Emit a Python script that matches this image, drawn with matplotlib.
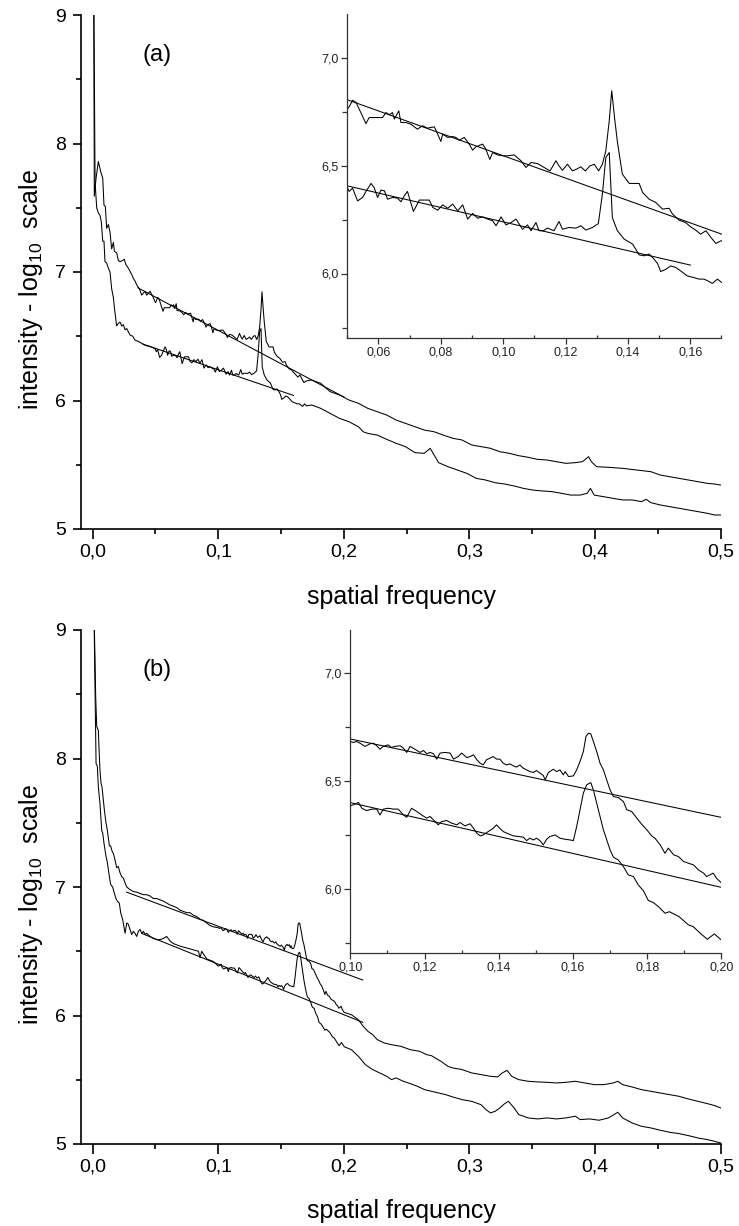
import matplotlib
matplotlib.use('Agg')
import matplotlib.pyplot as plt
from matplotlib.ticker import MultipleLocator, FuncFormatter

plt.rcParams['font.family'] = ['Liberation Sans', 'DejaVu Sans']
plt.rcParams['mathtext.fontset'] = 'custom'
plt.rcParams['mathtext.rm'] = 'Liberation Sans'
plt.rcParams['mathtext.it'] = 'Liberation Sans:italic'
plt.rcParams['mathtext.default'] = 'regular'

# ---------------- data: panel (a) ----------------
upper_a_x = [
    0.0008, 0.0013, 0.0027, 0.0045, 0.0064, 0.0080, 0.0090, 0.0101, 0.0111, 0.0125,
    0.0138, 0.0151, 0.0165, 0.0173, 0.0191, 0.0204, 0.0218, 0.0239, 0.0252, 0.0263,
    0.0284, 0.0311, 0.0324, 0.0337, 0.0350, 0.0372, 0.0390, 0.0417, 0.0430, 0.0457,
    0.0483,
    0.0500, 0.0506, 0.0517, 0.0528, 0.0560, 0.0570, 0.0613, 0.0624, 0.0635, 0.0645,
    0.0651, 0.0665, 0.0672, 0.0688, 0.0704, 0.0725, 0.0741, 0.0757, 0.0779, 0.0790,
    0.0800, 0.0806, 0.0822, 0.0838, 0.0848, 0.0859, 0.0875, 0.0891, 0.0902, 0.0912,
    0.0934, 0.0944, 0.0957, 0.0966, 0.0982, 0.0998, 0.1014, 0.1035, 0.1057, 0.1073,
    0.1089, 0.1110, 0.1131, 0.1150, 0.1169, 0.1179, 0.1190, 0.1206, 0.1222, 0.1235,
    0.1249, 0.1263, 0.1278, 0.1292, 0.1306, 0.1318, 0.1329, 0.1340, 0.1348, 0.1357,
    0.1366, 0.1382, 0.1404, 0.1420, 0.1436, 0.1447, 0.1468, 0.1489, 0.1511, 0.1532,
    0.1543, 0.1564, 0.1585, 0.1601, 0.1617, 0.1633, 0.1650, 0.1666, 0.1682, 0.1698,
    0.174, 0.1815, 0.189, 0.1965, 0.204, 0.2116, 0.219, 0.2266, 0.234, 0.2416,
    0.249, 0.2566, 0.264, 0.2717, 0.279, 0.2867, 0.294, 0.3017, 0.309, 0.3167,
    0.324, 0.3317, 0.339, 0.3467, 0.354, 0.3617, 0.369, 0.3768, 0.384, 0.390,
    0.3948, 0.397, 0.4012, 0.4106, 0.4219, 0.4331, 0.4444, 0.4519, 0.4594, 0.4669,
    0.4744, 0.4819, 0.4895, 0.4951, 0.5]
upper_a_y = [
    9.3, 7.59, 7.73, 7.86, 7.78, 7.73, 7.52, 7.51, 7.34, 7.37,
    7.31, 7.18, 7.23, 7.16, 7.15, 7.09, 7.08, 7.09, 7.10, 7.06,
    7.03, 6.98, 6.95, 6.93, 6.90, 6.87, 6.82, 6.85, 6.82, 6.85,
    6.80,
    6.761, 6.772, 6.802, 6.792, 6.694, 6.722, 6.722, 6.745, 6.735, 6.745,
    6.715, 6.753, 6.699, 6.699, 6.691, 6.668, 6.684, 6.673, 6.679, 6.645,
    6.611, 6.645, 6.630, 6.634, 6.630, 6.617, 6.630, 6.599, 6.571, 6.586,
    6.599, 6.576, 6.528, 6.560, 6.549, 6.545, 6.545, 6.549, 6.522, 6.491,
    6.514, 6.509, 6.491, 6.475, 6.522, 6.498, 6.478, 6.506, 6.475, 6.483,
    6.494, 6.475, 6.498, 6.506, 6.475, 6.506, 6.568, 6.707, 6.846, 6.722,
    6.611, 6.460, 6.417, 6.417, 6.417, 6.375, 6.344, 6.329, 6.298, 6.302,
    6.275, 6.247, 6.236, 6.216, 6.201, 6.182, 6.198, 6.167, 6.139, 6.151,
    6.160, 6.134, 6.069, 6.043, 6.004, 5.978, 5.939, 5.913, 5.887, 5.848,
    5.822, 5.796, 5.770, 5.757, 5.731, 5.706, 5.693, 5.654, 5.641, 5.628,
    5.602, 5.589, 5.571, 5.558, 5.542, 5.537, 5.524, 5.511, 5.516, 5.524,
    5.563, 5.524, 5.485, 5.480, 5.472, 5.459, 5.446, 5.420, 5.407, 5.394,
    5.381, 5.368, 5.355, 5.350, 5.342]

lower_a_x = [
    0.0008, 0.0019, 0.0032, 0.0045, 0.0058, 0.0069, 0.0080, 0.0090, 0.0098, 0.0111,
    0.0125, 0.0138, 0.0151, 0.0165, 0.0173, 0.0183, 0.0191, 0.0204, 0.0218, 0.0231,
    0.0244, 0.0258, 0.0271, 0.0297, 0.0319, 0.0337, 0.0364, 0.0390, 0.0417, 0.0457,
    0.0483,
    0.0500, 0.0506, 0.0517, 0.0533, 0.0549, 0.0560, 0.0576, 0.0586, 0.0597, 0.0608,
    0.0619, 0.0629, 0.0645, 0.0661, 0.0672, 0.0683, 0.0693, 0.0712, 0.0731, 0.0763,
    0.0774, 0.0790, 0.0806, 0.0822, 0.0838, 0.0854, 0.0870, 0.0886, 0.0902, 0.0918,
    0.0934, 0.0950, 0.0966, 0.0977, 0.0993, 0.1009, 0.1025, 0.1041, 0.1062, 0.1078,
    0.1089, 0.1105, 0.1115, 0.1128, 0.1142, 0.1163, 0.1179, 0.1190, 0.1211, 0.1233,
    0.1249, 0.1265, 0.1286, 0.1305, 0.1318, 0.1329, 0.1340, 0.1350, 0.1366, 0.1388,
    0.1415, 0.1436, 0.1452, 0.1468, 0.1484, 0.1495, 0.1505, 0.1521, 0.1537, 0.1553,
    0.1569, 0.1590, 0.1612, 0.1628, 0.1644, 0.1660, 0.1671, 0.1687, 0.1701,
    0.1744, 0.1815, 0.189, 0.1965, 0.204, 0.2116, 0.2153, 0.219, 0.2266, 0.234,
    0.2416, 0.249, 0.2566, 0.264, 0.2687, 0.2754, 0.2829, 0.2904, 0.2979, 0.3054,
    0.3129, 0.3205, 0.328, 0.3355, 0.343, 0.3505, 0.358, 0.3655, 0.3731, 0.3806,
    0.3881, 0.3937, 0.3963, 0.3993, 0.4069, 0.4144, 0.4219, 0.4294, 0.4369, 0.4407,
    0.4444, 0.4519, 0.4594, 0.4669, 0.4744, 0.4819, 0.4895, 0.4951, 0.5]
lower_a_y = [
    9.3, 7.70, 7.50, 7.46, 7.44, 7.39, 7.24, 7.24, 7.08, 7.07,
    7.03, 7.00, 6.87, 6.80, 6.72, 6.64, 6.58, 6.60, 6.61, 6.58,
    6.59, 6.55, 6.56, 6.51, 6.50, 6.47, 6.46, 6.445, 6.43, 6.42,
    6.41,
    6.398, 6.380, 6.395, 6.336, 6.352, 6.380, 6.417, 6.398, 6.352, 6.386,
    6.383, 6.344, 6.352, 6.349, 6.332, 6.360, 6.380, 6.287, 6.340, 6.340,
    6.306, 6.293, 6.318, 6.302, 6.321, 6.290, 6.318, 6.252, 6.278, 6.256,
    6.262, 6.252, 6.244, 6.221, 6.262, 6.225, 6.236, 6.252, 6.205, 6.225,
    6.198, 6.236, 6.198, 6.198, 6.210, 6.198, 6.241, 6.205, 6.213, 6.210,
    6.221, 6.201, 6.213, 6.231, 6.367, 6.537, 6.560, 6.259, 6.198, 6.159,
    6.136, 6.086, 6.082, 6.090, 6.066, 6.046, 6.009, 6.019, 6.035, 6.028,
    6.012, 5.989, 5.981, 5.974, 5.974, 5.963, 5.954, 5.974, 5.958,
    5.965, 5.939, 5.900, 5.861, 5.835, 5.796, 5.757, 5.744, 5.731, 5.698,
    5.667, 5.641, 5.594, 5.589, 5.628, 5.516, 5.485, 5.459, 5.433, 5.394,
    5.381, 5.360, 5.350, 5.335, 5.316, 5.303, 5.296, 5.291, 5.278, 5.264,
    5.264, 5.278, 5.316, 5.264, 5.251, 5.238, 5.226, 5.226, 5.213, 5.231,
    5.205, 5.187, 5.174, 5.161, 5.148, 5.135, 5.122, 5.109, 5.109]

fit_a_upper_x = [0.036, 0.200]
fit_a_upper_y = [6.877, 6.027]
fit_a_lower_x = [0.040, 0.160]
fit_a_lower_y = [6.439, 6.039]

# ---------------- data: panel (b) ----------------
upper_b_x = [
    0.0008, 0.0024, 0.0032, 0.0045, 0.0050, 0.0058, 0.0066, 0.0074, 0.0085, 0.0093,
    0.0106, 0.0117, 0.0133, 0.0143, 0.0154, 0.0165, 0.0178, 0.0191, 0.0204, 0.0218,
    0.0231, 0.0244, 0.0258, 0.0271, 0.0284, 0.0297, 0.0324, 0.0350, 0.0377, 0.0404,
    0.0430, 0.0457, 0.0483, 0.0510, 0.0536, 0.0563, 0.0589, 0.0616, 0.0642, 0.0669,
    0.0695, 0.0722, 0.0749, 0.0775, 0.0802, 0.0828, 0.0855, 0.0881, 0.0908, 0.0934,
    0.0961,
    0.1000, 0.1008, 0.1017, 0.1026, 0.1040, 0.1053, 0.1062, 0.1071, 0.1080, 0.1089,
    0.1102, 0.1111, 0.1120, 0.1134, 0.1143, 0.1152, 0.1161, 0.1174, 0.1188, 0.1197,
    0.1206, 0.1215, 0.1224, 0.1233, 0.1242, 0.1255, 0.1269, 0.1278, 0.1291, 0.1300,
    0.1314, 0.1323, 0.1332, 0.1341, 0.1350, 0.1358, 0.1367, 0.1376, 0.1385, 0.1394,
    0.1403, 0.1412, 0.1421, 0.1430, 0.1439, 0.1448, 0.1457, 0.1466, 0.1475, 0.1484,
    0.1493, 0.1502, 0.1511, 0.1520, 0.1525, 0.1534, 0.1547, 0.1556, 0.1565, 0.1574,
    0.1579, 0.1588, 0.1601, 0.1610, 0.1619, 0.1628, 0.1635, 0.1642, 0.1648, 0.1655,
    0.1664, 0.1673, 0.1682, 0.1691, 0.1700, 0.1709, 0.1722, 0.1736, 0.1745, 0.1758,
    0.1772, 0.1785, 0.1799, 0.1812, 0.1821, 0.1835, 0.1848, 0.1857, 0.1871, 0.1884,
    0.1898, 0.1911, 0.1925, 0.1938, 0.1952, 0.1960, 0.1969, 0.1978, 0.1987, 0.2001,
    0.2060, 0.2116, 0.2154, 0.2191, 0.2229, 0.2266, 0.2322, 0.2379, 0.2454, 0.2529,
    0.2604, 0.2660, 0.2698, 0.2773, 0.2829, 0.2867, 0.2942, 0.3017, 0.3092, 0.3167,
    0.3224, 0.3261, 0.3299, 0.3336, 0.3392, 0.3467, 0.3543, 0.3618, 0.3693, 0.3768,
    0.3843, 0.3918, 0.3993, 0.4069, 0.4144, 0.4181, 0.4219, 0.4294, 0.4369, 0.4444,
    0.4519, 0.4594, 0.4669, 0.4744, 0.4819, 0.4895, 0.4951, 0.5]
upper_b_y = [
    9.3, 8.48, 8.25, 8.22, 8.09, 7.91, 7.81, 7.78, 7.68, 7.60,
    7.50, 7.44, 7.32, 7.32, 7.28, 7.26, 7.21, 7.15, 7.16, 7.11,
    7.08, 7.07, 7.03, 7.00, 6.99, 6.98, 6.965, 6.96, 6.95, 6.94,
    6.94, 6.93, 6.91, 6.91, 6.90, 6.89, 6.875, 6.86, 6.85, 6.84,
    6.82, 6.81, 6.80, 6.80, 6.78, 6.77, 6.75, 6.74, 6.72, 6.70,
    6.69,
    6.683, 6.678, 6.683, 6.675, 6.660, 6.672, 6.675, 6.663, 6.647, 6.660,
    6.667, 6.655, 6.660, 6.663, 6.652, 6.632, 6.660, 6.647, 6.632, 6.641,
    6.626, 6.632, 6.626, 6.601, 6.629, 6.632, 6.629, 6.601, 6.613, 6.629,
    6.608, 6.613, 6.621, 6.598, 6.582, 6.574, 6.598, 6.605, 6.613, 6.601,
    6.601, 6.582, 6.574, 6.579, 6.570, 6.564, 6.574, 6.559, 6.551, 6.543,
    6.539, 6.548, 6.536, 6.525, 6.505, 6.539, 6.554, 6.543, 6.551, 6.528,
    6.543, 6.520, 6.523, 6.551, 6.590, 6.636, 6.706, 6.721, 6.718, 6.683,
    6.636, 6.582, 6.551, 6.505, 6.458, 6.427, 6.423, 6.404, 6.366, 6.358,
    6.327, 6.299, 6.273, 6.245, 6.234, 6.203, 6.164, 6.188, 6.157, 6.149,
    6.126, 6.118, 6.110, 6.087, 6.072, 6.056, 6.064, 6.072, 6.048, 6.025,
    6.006, 5.967, 5.916, 5.877, 5.851, 5.812, 5.786, 5.773, 5.760, 5.734,
    5.721, 5.695, 5.687, 5.643, 5.604, 5.592, 5.579, 5.553, 5.540, 5.527,
    5.522, 5.553, 5.573, 5.527, 5.501, 5.488, 5.483, 5.480, 5.475, 5.480,
    5.488, 5.475, 5.462, 5.462, 5.475, 5.488, 5.462, 5.444, 5.423, 5.410,
    5.397, 5.384, 5.371, 5.350, 5.332, 5.314, 5.299, 5.281]

lower_b_x = [
    0.0008, 0.0027, 0.0037, 0.0045, 0.0058, 0.0072, 0.0080, 0.0090, 0.0106, 0.0117,
    0.0133, 0.0143, 0.0159, 0.0173, 0.0186, 0.0196, 0.0212, 0.0223, 0.0239, 0.0258,
    0.0271, 0.0284, 0.0297, 0.0311, 0.0324, 0.0337, 0.0350, 0.0364, 0.0377, 0.0390,
    0.0404, 0.0417, 0.0430, 0.0457, 0.0483, 0.0510, 0.0536, 0.0563, 0.0589, 0.0616,
    0.0642, 0.0669, 0.0695, 0.0749, 0.0802, 0.0842, 0.0855, 0.0868, 0.0908, 0.0961,
    0.1000, 0.1008, 0.1022, 0.1031, 0.1044, 0.1058, 0.1071, 0.1080, 0.1089, 0.1102,
    0.1116, 0.1129, 0.1143, 0.1152, 0.1165, 0.1179, 0.1192, 0.1206, 0.1215, 0.1224,
    0.1237, 0.1246, 0.1260, 0.1273, 0.1287, 0.1296, 0.1309, 0.1323, 0.1332, 0.1341,
    0.1350, 0.1358, 0.1372, 0.1385, 0.1394, 0.1403, 0.1412, 0.1426, 0.1439, 0.1453,
    0.1466, 0.1475, 0.1484, 0.1493, 0.1502, 0.1511, 0.1520, 0.1529, 0.1538, 0.1552,
    0.1565, 0.1579, 0.1592, 0.1601, 0.1610, 0.1619, 0.1628, 0.1637, 0.1648, 0.1655,
    0.1664, 0.1673, 0.1682, 0.1691, 0.1700, 0.1709, 0.1722, 0.1736, 0.1749, 0.1763,
    0.1776, 0.1790, 0.1803, 0.1817, 0.1830, 0.1848, 0.1860, 0.1886, 0.1911, 0.1924,
    0.1943, 0.1962, 0.1981,
    0.2003, 0.2060, 0.2116, 0.2172, 0.2229, 0.2285, 0.2341, 0.2379, 0.2416, 0.2473,
    0.2529, 0.2585, 0.2642, 0.2698, 0.2754, 0.2810, 0.2867, 0.2942, 0.3017, 0.3092,
    0.3130, 0.3167, 0.3205, 0.3242, 0.3280, 0.3310, 0.3355, 0.3392, 0.3467, 0.3543,
    0.3618, 0.3693, 0.3768, 0.3843, 0.3881, 0.3956, 0.4031, 0.4106, 0.4181, 0.4219,
    0.4294, 0.4369, 0.4444, 0.4519, 0.4594, 0.4669, 0.4744, 0.4819, 0.4895, 0.4951,
    0.5]
lower_b_y = [
    9.3, 7.96, 7.94, 7.78, 7.65, 7.44, 7.42, 7.34, 7.24, 7.19,
    7.08, 7.02, 7.00, 6.95, 6.91, 6.89, 6.875, 6.80, 6.745, 6.64,
    6.72, 6.71, 6.67, 6.63, 6.655, 6.64, 6.615, 6.655, 6.67, 6.64,
    6.655, 6.63, 6.64, 6.615, 6.60, 6.59, 6.59, 6.60, 6.615, 6.58,
    6.56, 6.55, 6.54, 6.525, 6.51, 6.50, 6.45, 6.50, 6.44, 6.42,
    6.384, 6.389, 6.400, 6.373, 6.362, 6.369, 6.369, 6.342, 6.369, 6.373,
    6.369, 6.369, 6.342, 6.331, 6.373, 6.358, 6.342, 6.327, 6.335, 6.319,
    6.296, 6.311, 6.316, 6.304, 6.296, 6.307, 6.291, 6.301, 6.280, 6.257,
    6.245, 6.249, 6.265, 6.280, 6.296, 6.280, 6.265, 6.254, 6.245, 6.242,
    6.239, 6.223, 6.234, 6.226, 6.234, 6.223, 6.203, 6.229, 6.242, 6.249,
    6.234, 6.229, 6.226, 6.223, 6.288, 6.366, 6.443, 6.482, 6.492, 6.458,
    6.396, 6.335, 6.273, 6.226, 6.180, 6.146, 6.133, 6.102, 6.064, 6.056,
    6.017, 5.990, 5.945, 5.935, 5.917, 5.886, 5.893, 5.870, 5.832, 5.824,
    5.793, 5.765, 5.790,
    5.757, 5.734, 5.682, 5.617, 5.579, 5.553, 5.527, 5.501, 5.514, 5.488,
    5.470, 5.449, 5.423, 5.410, 5.397, 5.384, 5.366, 5.345, 5.332, 5.306,
    5.268, 5.242, 5.255, 5.281, 5.314, 5.332, 5.281, 5.229, 5.203, 5.195,
    5.203, 5.195, 5.203, 5.216, 5.190, 5.195, 5.185, 5.203, 5.247, 5.203,
    5.164, 5.138, 5.125, 5.107, 5.091, 5.081, 5.065, 5.047, 5.034, 5.021,
    5.008]

fit_b_upper_x = [0.027, 0.215]
fit_b_upper_y = [6.960, 6.276]
fit_b_lower_x = [0.039, 0.215]
fit_b_lower_y = [6.639, 5.947]

main_xticks = [0.0, 0.1, 0.2, 0.3, 0.4, 0.5]
main_yticks = [5, 6, 7, 8, 9]
inset_yticks = [6.0, 6.5, 7.0]

# ---------------- layout ----------------
W, H = 739, 1226
fig = plt.figure(figsize=(W / 100, H / 100), dpi=100)


def rect(left, right, bottom, top):
    return [left / W, 1 - bottom / H, (right - left) / W, (bottom - top) / H]


def comma(fmt):
    def f(v, pos):
        if abs(v) < 1e-9:
            v = 0.0
        return (fmt % v).replace('.', ',')
    return FuncFormatter(f)


def style_main(ax):
    ax.set_xlim(-0.0093, 0.5)
    ax.set_ylim(5, 9)
    for s in ('top', 'right'):
        ax.spines[s].set_visible(False)
    for s in ('left', 'bottom'):
        ax.spines[s].set_linewidth(1.2)
    ax.set_xticks(main_xticks)
    ax.set_yticks(main_yticks)
    ax.xaxis.set_minor_locator(MultipleLocator(0.05))
    ax.yaxis.set_minor_locator(MultipleLocator(0.5))
    ax.xaxis.set_major_formatter(comma('%.1f'))
    ax.yaxis.set_major_formatter(FuncFormatter(lambda v, p: '%d' % round(v)))
    ax.tick_params(which='major', direction='out', width=1.2, labelsize=14)
    ax.tick_params(axis='x', which='major', length=7.2, pad=3)
    ax.tick_params(axis='y', which='major', length=6, pad=5)
    ax.tick_params(which='minor', direction='out', length=3.6, width=1.2)


def style_inset(ax, xlim, xmaj):
    ax.set_facecolor('none')
    ax.set_xlim(*xlim)
    ax.set_ylim(5.7, 7.2)
    for s in ('top', 'right'):
        ax.spines[s].set_visible(False)
    for s in ('left', 'bottom'):
        ax.spines[s].set_linewidth(0.9)
        ax.spines[s].set_color('#333333')
    ax.set_xticks(xmaj)
    ax.set_yticks(inset_yticks)
    ax.xaxis.set_minor_locator(MultipleLocator(0.01))
    ax.yaxis.set_minor_locator(MultipleLocator(0.25))
    ax.xaxis.set_major_formatter(comma('%.2f'))
    ax.yaxis.set_major_formatter(comma('%.1f'))
    ax.tick_params(which='major', direction='out', length=4, width=0.9,
                   labelsize=9, pad=2, color='#333333', labelcolor='#222222')
    ax.tick_params(axis='y', which='minor', direction='out', length=3.5,
                   width=0.9, color='#333333')
    ax.tick_params(axis='x', which='minor', direction='in', length=2.5,
                   width=0.9, color='#333333')


LW = 0.75
panels = [
    dict(main=rect(81, 720.7, 529, 15), inset=rect(347.3, 721.5, 338.3, 14.3),
         ixlim=(0.05, 0.17), ixmaj=[0.06, 0.08, 0.10, 0.12, 0.14, 0.16],
         up=(upper_a_x, upper_a_y), lo=(lower_a_x, lower_a_y),
         fu=(fit_a_upper_x, fit_a_upper_y), fl=(fit_a_lower_x, fit_a_lower_y),
         tag='(a)', ylab=290, xlab=597),
    dict(main=rect(81, 720.7, 1144, 630), inset=rect(350.3, 721.4, 953.3, 630),
         ixlim=(0.10, 0.20), ixmaj=[0.10, 0.12, 0.14, 0.16, 0.18, 0.20],
         up=(upper_b_x, upper_b_y), lo=(lower_b_x, lower_b_y),
         fu=(fit_b_upper_x, fit_b_upper_y), fl=(fit_b_lower_x, fit_b_lower_y),
         tag='(b)', ylab=905, xlab=1211),
]

for p in panels:
    ax = fig.add_axes(p['main'])
    style_main(ax)
    for key in ('up', 'lo', 'fu', 'fl'):
        ax.plot(*p[key], color='black', lw=LW)
    ax.text(0.051, 8.69, p['tag'], fontsize=17, ha='center', va='center')

    ins = fig.add_axes(p['inset'])
    style_inset(ins, p['ixlim'], p['ixmaj'])
    for key in ('up', 'lo', 'fu', 'fl'):
        ins.plot(*p[key], color='black', lw=LW)

    fig.text(31 / W, 1 - p['ylab'] / H, 'intensity - log$_{10}$  scale',
             rotation=90, ha='center', va='center', fontsize=18)
    fig.text(401 / W, 1 - p['xlab'] / H, 'spatial frequency',
             ha='center', va='center', fontsize=18)

fig.savefig('out.png', dpi=100)
